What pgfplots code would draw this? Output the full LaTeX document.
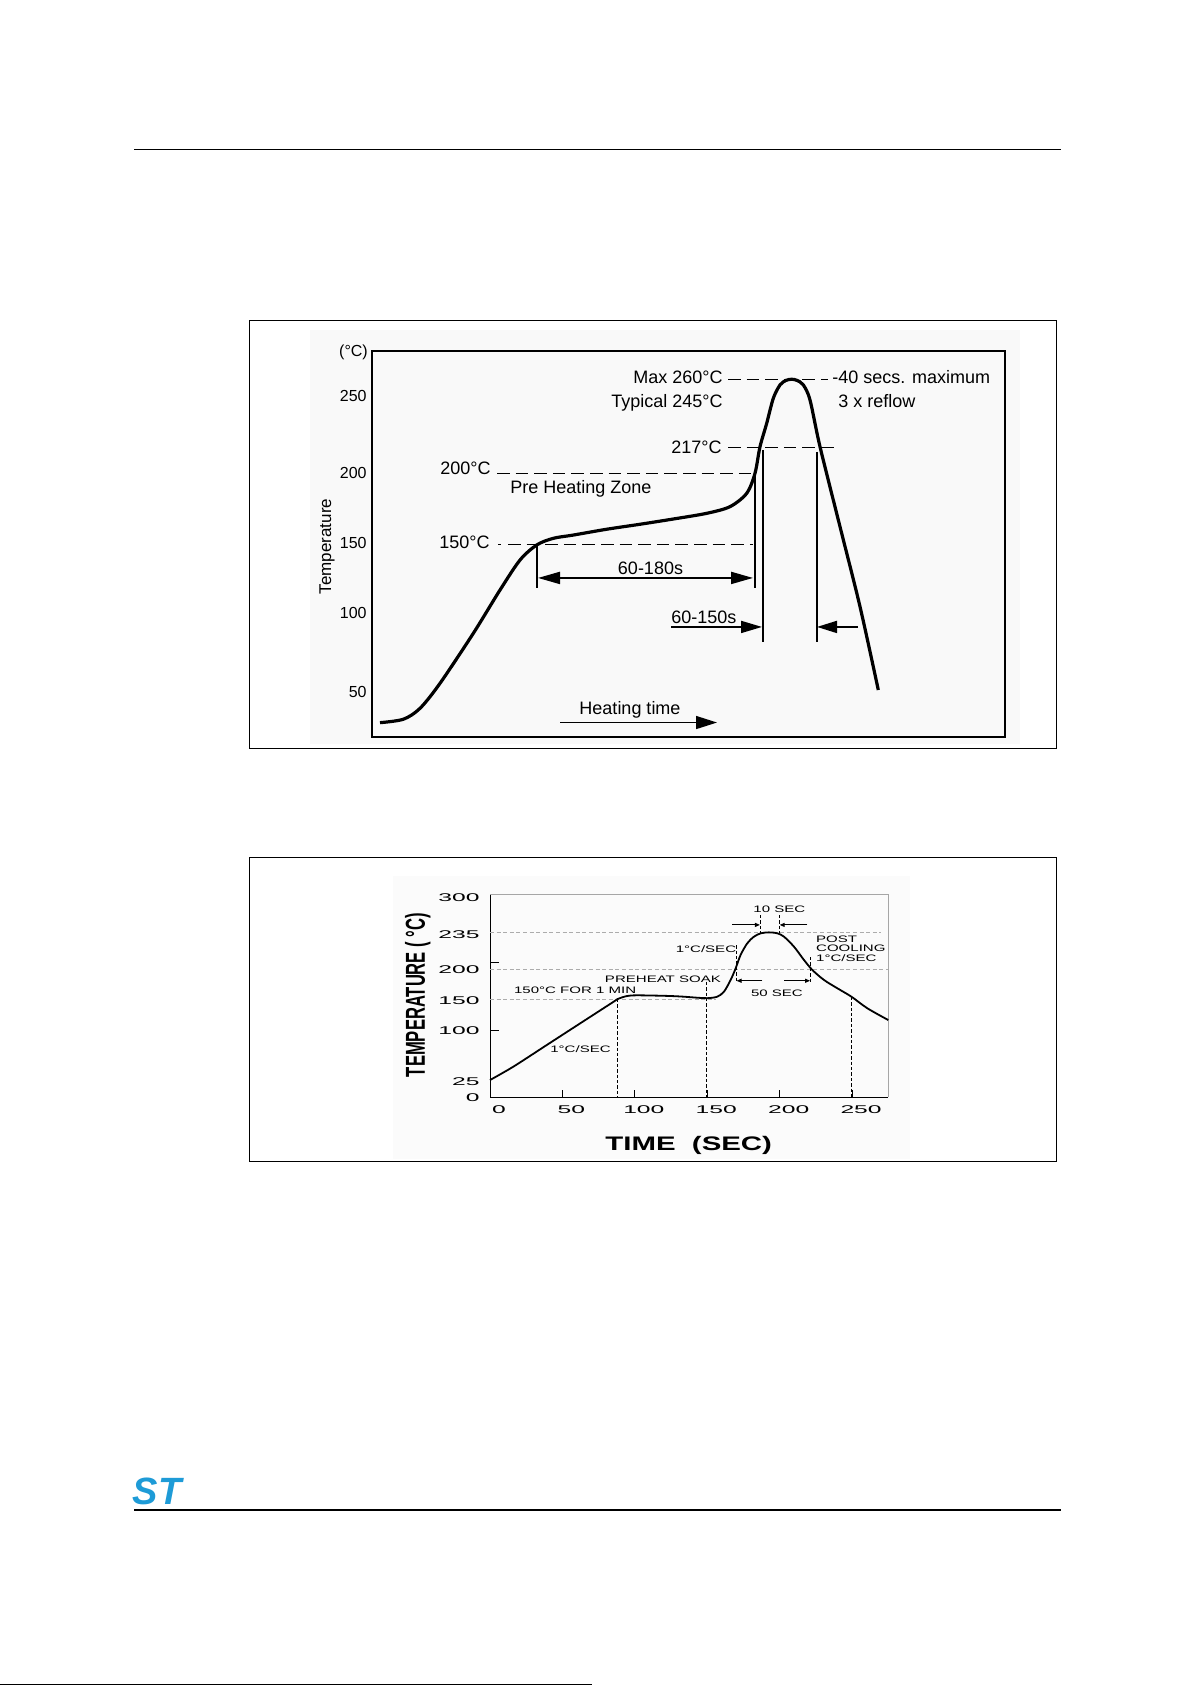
\documentclass[border=0pt]{standalone}
\usepackage{fontspec}
\setmainfont{Liberation Sans}
\newfontfamily\wideA[FakeStretch=1.6]{Liberation Sans}
\newfontfamily\wideT[FakeStretch=2.2]{Liberation Sans}
\newfontfamily\wideL[FakeStretch=1.5]{Liberation Sans}
\usepackage{graphicx}
\usepackage{pgfplots}
\pgfplotsset{compat=1.18}
\usetikzlibrary{arrows.meta}
\definecolor{stblue}{HTML}{1E9BD7}
\begin{document}
\begin{tikzpicture}
\path[use as bounding box, fill=white] (0,0) rectangle (595.5pt,-842.5pt);
\begin{scope}[x=0.5pt,y=-0.5pt]
 \draw[line width=0.65pt] (134,149.3) -- (1061,149.3);
 \fill[black!2.5] (310,330) rectangle (1020,744);
 \draw[line width=0.5pt] (249,320) rectangle (1056,748);
 \fill[black!1.5] (393,876) rectangle (910,1159);
 \draw[line width=0.5pt] (249,857) rectangle (1056,1161);
 \draw[line width=0.65pt] (134,1510) -- (1061,1510);
 \node[text=stblue, font=\fontsize{19}{20}\selectfont\bfseries\itshape, inner sep=0pt] at (157,1491) {ST};
 \draw[line width=0.5pt] (0,1684) -- (592,1684);
\end{scope}

% ---------------- Chart 1 ----------------
\begin{axis}[
 at={(186pt,-368.5pt)}, anchor=south west, scale only axis,
 width=316.5pt, height=193pt,
 xmin=0, xmax=316.5, ymin=14.3, ymax=286.1,
 axis line style={line width=1pt},
 xtick=\empty,
 ytick={46.1,101.6,150.9,200.2,254.4},
 yticklabels={50,100,150,200,250},
 ytick style={draw=none},
 yticklabel style={font=\fontsize{8}{9.6}\selectfont, anchor=east, inner sep=0pt, xshift=-2.5pt},
 ylabel={Temperature},
 ylabel style={font=\fontsize{8.5}{10}\selectfont, at={(rel axis cs:-0.0711,0.4937)}, anchor=center},
 clip=false,
]
\addplot[line width=1.6pt, smooth, tension=0.5] coordinates {
(4,24.4) (15.65,26.8) (24,34.5) (34,52.1) (50.65,87.3) (64,117.8) (74,138.9)
(82.35,149.5) (90.65,154.2) (100.65,156.5) (117.35,160.6) (134,164.1) (150.65,167.8)
(167.35,171.8) (179,176.5) (187.35,185.9) (191.5,200) (194,218.7) (197.35,235.2)
(200.65,252.8) (204,262.2) (207,265.4) (209.85,266.2) (212.5,265.4) (215.65,262.2)
(219,251.6) (224,218.7) (234,162.4) (244,106.1) (253.15,47.4)};
% dashed reference lines
\draw[line width=0.7pt, dash pattern=on 6.3pt off 3pt] (axis cs:68,150) -- (axis cs:190.5,150);
\draw[line width=0.7pt] (axis cs:63,150) -- (axis cs:64.5,150);
\draw[line width=0.7pt, dash pattern=on 6.3pt off 3pt] (axis cs:62.5,200) -- (axis cs:191.5,200);
\draw[line width=0.7pt, dash pattern=on 6.3pt off 3pt] (axis cs:178,218.3) -- (axis cs:233.5,218.3);
\draw[line width=0.7pt, dash pattern=on 6.3pt off 3pt] (axis cs:178,266.2) -- (axis cs:228,266.2);
% vertical markers
\draw[line width=0.6pt] (axis cs:82.5,149.5) -- (axis cs:82.5,119.3);
\draw[line width=0.6pt] (axis cs:191.5,200.9) -- (axis cs:191.5,119.3);
\draw[line width=0.6pt] (axis cs:195.5,216.4) -- (axis cs:195.5,81.2);
\draw[line width=0.6pt] (axis cs:222.5,215) -- (axis cs:222.5,81.2);
% arrows
\draw[line width=1pt, {Triangle[length=11pt,width=6pt]}-{Triangle[length=11pt,width=6pt]}] (axis cs:83,126.3) -- (axis cs:190.5,126.3);
\draw[line width=0.9pt, -{Triangle[length=10.5pt,width=6pt]}] (axis cs:149.5,91.8) -- (axis cs:195,91.8);
\draw[line width=0.9pt, -{Triangle[length=10pt,width=6pt]}] (axis cs:243,91.8) -- (axis cs:222.5,91.8);
\draw[line width=0.7pt, -{Triangle[length=10.5pt,width=6.5pt]}] (axis cs:94,24.5) -- (axis cs:172.5,24.5);
% texts
\begin{scope}[every node/.style={font=\fontsize{9}{10.8}\selectfont, inner sep=0pt}]
\node[anchor=base east] at (axis cs:175.5,263.5) {Max 260°C};
\node[anchor=base east] at (axis cs:175.5,246.5) {Typical 245°C};
\node[anchor=base west] at (axis cs:230,263) {-40 secs. maximum};
\node[anchor=base west] at (axis cs:233,246) {3 x reflow};
\node[anchor=base east] at (axis cs:175,213.9) {217°C};
\node[anchor=base east] at (axis cs:59.5,199.2) {200°C};
\node[anchor=base west] at (axis cs:69,185.8) {Pre Heating Zone};
\node[anchor=base east] at (axis cs:59,147.0) {150°C};
\node[anchor=base] at (axis cs:139.25,128.7) {60-180s};
\node[anchor=base west] at (axis cs:149.5,94.2) {60-150s};
\node[anchor=base] at (axis cs:129,30.4) {Heating time};
\node[font=\fontsize{8}{9.6}\selectfont] at (axis cs:-9.25,285.4) {(°C)};
\end{scope}
\end{axis}

% ---------------- Chart 2 ----------------
\begin{axis}[
 at={(245pt,-548.65pt)}, anchor=south west, scale only axis,
 width=199.15pt, height=101.65pt,
 xmin=0, xmax=275, ymin=0, ymax=300,
 /pgf/number format/assume math mode=true,
 axis line style={draw=none},
 xtick={0,50,100,150,200,250}, xtick pos=left,
 tick align=inside, major tick length=3.5pt,
 tick style={black, line width=0.4pt},
 xticklabel style={font=\wideT\fontsize{5.6}{6.7}\selectfont, anchor=center, inner sep=0pt, yshift=-6.35pt, xshift=4.5pt},
 ytick={0,23.6,98.3,142.4,188.3,240.2,295.3},
 yticklabels={0,25,100,150,200,235,300},
 ytick style={draw=none},
 yticklabel style={font=\wideT\fontsize{5.6}{6.7}\selectfont, anchor=east, inner sep=0pt, xshift=-5pt},
 xlabel={\wideL\bfseries\fontsize{9.8}{11}\selectfont TIME~~(SEC)},
 xlabel style={at={(rel axis cs:0.4989,-0.2347)}, anchor=center, inner sep=0pt},
 ylabel={\scalebox{1}[1.65]{\bfseries\fontsize{8.3}{10}\selectfont TEMPERATURE ( °C)}},
 ylabel style={at={(rel axis cs:-0.1811,0.503)}, anchor=center, inner sep=0pt},
 clip=false,
]
% frame
\draw[line width=0.5pt, black] (rel axis cs:0,1) -- (rel axis cs:0,0) -- (rel axis cs:1,0);
\draw[line width=0.5pt, gray!70] (rel axis cs:0,1) -- (rel axis cs:1,1) -- (rel axis cs:1,0);
\draw[line width=0.4pt] (axis cs:0,99.3) -- (axis cs:6.2,99.3);
\draw[line width=0.4pt] (axis cs:0,198.6) -- (axis cs:6.2,198.6);
% grey dashed horizontals
\draw[gray!65, line width=0.5pt, dash pattern=on 2pt off 1.3pt] (axis cs:0,243.4) -- (axis cs:270,243.4);
\draw[gray!65, line width=0.5pt, dash pattern=on 2pt off 1.3pt] (axis cs:0,188) -- (axis cs:275,188);
\draw[gray!65, line width=0.5pt, dash pattern=on 2pt off 1.3pt] (axis cs:0,145) -- (axis cs:156,145);
% black dashed verticals
\draw[line width=0.45pt, dash pattern=on 1.7pt off 1pt] (axis cs:88.1,145) -- (axis cs:88.1,0);
\draw[line width=0.45pt, dash pattern=on 1.7pt off 1pt] (axis cs:149.5,170.6) -- (axis cs:149.5,0);
\draw[line width=0.45pt, dash pattern=on 1.7pt off 1pt] (axis cs:249.6,148.4) -- (axis cs:249.6,0);
\draw[line width=0.45pt, dash pattern=on 1.7pt off 1pt] (axis cs:186.4,269) -- (axis cs:186.4,243);
\draw[line width=0.45pt, dash pattern=on 1.7pt off 1pt] (axis cs:200,269) -- (axis cs:200,243);
\draw[line width=0.45pt, dash pattern=on 1.7pt off 1pt] (axis cs:170.2,224.6) -- (axis cs:170.2,170.6);
\draw[line width=0.45pt, dash pattern=on 1.7pt off 1pt] (axis cs:221,207) -- (axis cs:221,170.6);
% small arrows
\draw[line width=0.5pt, -{Triangle[length=2.5pt,width=2pt]}] (axis cs:167.2,254.4) -- (axis cs:186.4,254.4);
\draw[line width=0.5pt, -{Triangle[length=2.5pt,width=2pt]}] (axis cs:219.2,254.4) -- (axis cs:200,254.4);
\draw[line width=0.5pt, -{Triangle[length=2.5pt,width=2pt]}] (axis cs:188,172) -- (axis cs:170.2,172);
\draw[line width=0.5pt, -{Triangle[length=2.5pt,width=2pt]}] (axis cs:203,172) -- (axis cs:221,172);
% curve
\addplot[line width=0.9pt, smooth, tension=0.5] coordinates {
(0,25.5) (16.1,45.2) (39.2,77.2) (62.3,109.2) (85.3,141) (88.1,145) (94.6,149.5)
(101.5,150.5) (120,149.8) (131.5,148.8) (143,147) (150,146.3) (156.8,148.4)
(161.5,155.8) (166.1,173) (169.6,190.3) (173,210) (177.6,227.2) (182.2,237)
(186.9,242) (192.6,243.4) (198.4,242) (203,237) (209.9,222.2) (216.8,202.6)
(222.6,187.8) (230.7,173) (239.9,160.8) (249.6,148.4) (260.6,131.3) (275,114)};
% texts
\begin{scope}[every node/.style={font=\wideA\fontsize{4.7}{5.6}\selectfont, inner sep=0pt}]
\node at (axis cs:199.8,277.4) {10 SEC};
\node at (axis cs:149.1,218.4) {1°C/SEC};
\node[anchor=west] at (axis cs:224.9,233.1) {POST};
\node[anchor=west] at (axis cs:224.9,219.8) {COOLING};
\node[anchor=west] at (axis cs:224.9,206) {1°C/SEC};
\node at (axis cs:119.4,174.1) {PREHEAT SOAK};
\node at (axis cs:58.8,158.3) {150°C FOR 1 MIN};
\node at (axis cs:198.1,153.4) {50 SEC};
\node at (axis cs:62.5,70.8) {1°C/SEC};
\end{scope}
\end{axis}
\end{tikzpicture}
\end{document}
